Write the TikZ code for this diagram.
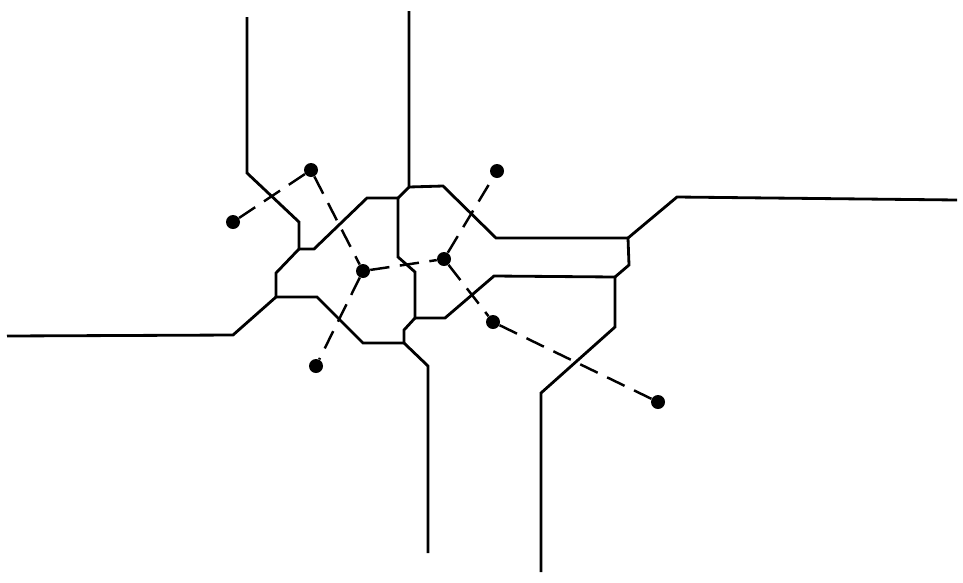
\documentclass[tikz,border=0pt]{standalone}
\usepackage{tikz}
\usetikzlibrary{calc}
\tikzset{
  site/.style={circle, fill=black, inner sep=0pt, minimum size=0.28cm},
  wall/.style={line width=1.6pt, line join=miter},
  link/.style={line width=1.4pt, dash pattern=on 11pt off 6pt},
}

\begin{document}
\begin{tikzpicture}[x=0.02cm, y=-0.02cm]
  \useasboundingbox (0,0) rectangle (963,582);
  % junctions of the cells
  \coordinate (j1) at (299,249);
  \coordinate (j2) at (398,198);
  \coordinate (j3) at (409,187);
  \coordinate (j4) at (628,238);
  \coordinate (j5) at (615,277);
  \coordinate (j6) at (415,318);
  \coordinate (j7) at (404,343);
  \coordinate (j8) at (276,297);
  % cell walls
  \draw[wall] (247,17) -- (247,173) -- (299,222) -- (j1);
  \draw[wall] (j1) -- (314,249) -- (367,198) -- (j2);
  \draw[wall] (j1) -- (276,273) -- (j8);
  \draw[wall] (409,11) -- (j3) -- (j2);
  \draw[wall] (j3) -- (443,186) -- (496,238) -- (j4);
  \draw[wall] (j4) -- (677,197) -- (957,200);
  \draw[wall] (j4) -- (629,265) -- (j5);
  \draw[wall] (j5) -- (494,276) -- (445,318) -- (j6);
  \draw[wall] (j5) -- (615,327) -- (541,393) -- (541,572);
  \draw[wall] (j2) -- (398,257) -- (415,272) -- (j6);
  \draw[wall] (j6) -- (404,330) -- (j7);
  \draw[wall] (j7) -- (363,343) -- (317,297) -- (j8);
  \draw[wall] (j7) -- (428,366) -- (428,553);
  \draw[wall] (j8) -- (233,335) -- (7,336);
  % sites
  \foreach \x/\y [count=\i] in {311/170, 233/222, 363/271, 444/259, 497/171, 493/322, 658/402, 316/366}
    \node[site] (s\i) at (\x,\y) {};
  % tree between the sites
  \foreach \a/\b in {2/1, 1/3, 3/8, 3/4, 4/5, 4/6, 6/7}
    \draw[link] (s\a) -- (s\b);
\end{tikzpicture}
\end{document}
